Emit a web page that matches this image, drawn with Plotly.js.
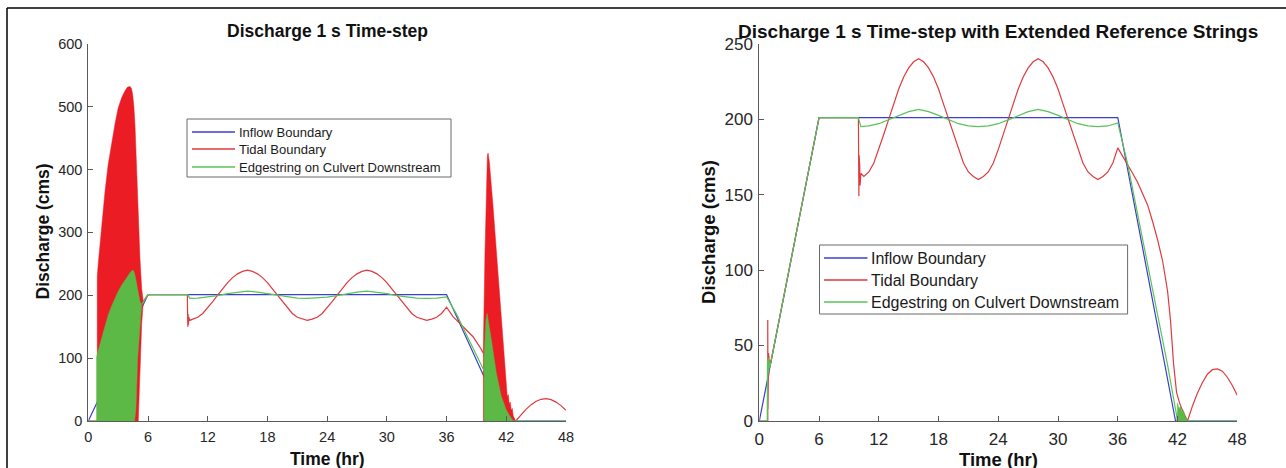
<!DOCTYPE html>
<html>
<head>
<meta charset="utf-8">
<script src="https://cdn.plot.ly/plotly-3.0.1.min.js"></script>
<style>html,body{margin:0;padding:0;background:#fff;}#chart{width:1286px;height:468px;}</style>
</head>
<body>
<div id="chart"></div>
<script>
// ---------- shared readings ----------
const seriesNames = ['Inflow Boundary', 'Tidal Boundary', 'Edgestring on Culvert Downstream'];
const xTicks = [0, 6, 12, 18, 24, 30, 36, 42, 48];

// Inflow boundary (both runs)
const inflowT = [0, 6, 36, 41.8, 48];
const inflowQ = [0, 201, 201, 0, 0];

// steady tidal oscillation 10.5 - 36 hr
const tideMidT = [10.5,11,11.5,12,12.5,13,13.5,14,14.5,15,15.5,16,16.5,17,17.5,18,18.5,19,19.5,20,20.5,21,21.5,22,22.5,23,23.5,24,24.5,25,25.5,26,26.5,27,27.5,28,28.5,29,29.5,30,30.5,31,31.5,32,32.5,33,33.5,34,34.5,35,35.5,36];
const tideMidQ = [162,165,171,180,190,200,210,220,228,234,238,240,238,234,228,220,210,200,190,180,171,165,162,160,162,165,171,180,190,200,210,220,228,234,238,240,238,234,228,220,210,200,190,180,171,165,162,160,162,165,171,181];

// edgestring oscillation 10.2 - 36 hr
const edgeMidT = [10.2,11,12,13,14,15,16,17,18,19,20,21,22,23,24,25,26,27,28,29,30,31,32,33,34,35,36];
const edgeMidQ = [195,195.5,197,199.5,202.5,205,206.5,205,202.5,199.5,197,195.5,195,195.5,197,199.5,202.5,205,206.5,205,202.5,199.5,197,195.5,195,195.5,197.5];

// ---------- left panel: 1 s time-step ----------
const tideL_startT = [0, 0.90, 0.90, 5.52, 5.86, 6.1, 9.95, 10.0, 10.03, 10.06, 10.1, 10.2];
const tideL_startQ = [0, 0, null, 190, 198, 201, 201, 150, 170, 153, 165, 160];
const tideL_endT = [36.65, 37.66, 38.66, 39.33, 39.7, 39.7, 42.95, 43.5, 44, 44.5, 45, 45.5, 46, 46.5, 47, 47.5, 48];
const tideL_endQ = [166, 150, 134, 118, 108, null, 0, 10, 19, 26, 31.5, 34.5, 35.5, 34, 30, 24.5, 17];

// oscillating tidal bursts (envelopes)
const tideBurstL1T = [0.90, 0.90, 1.0, 1.2, 1.45, 1.68, 2.0, 2.35, 2.7, 3.01, 3.35, 3.69, 3.95, 4.19, 4.33, 4.45, 4.58, 4.69, 4.86, 5.02, 5.19, 5.36, 5.52, 5.36, 5.19, 5.02, 0.90];
const tideBurstL1Q = [0, 229, 250, 288, 330, 365, 408, 444, 474, 498, 514, 525, 531, 532, 529, 520, 500, 471, 391, 312, 259, 211, 190, 153, 73, 0, 0];
const tideBurstL2T = [39.70, 39.70, 39.85, 40.0, 40.1, 40.17, 40.3, 40.67, 41.17, 41.67, 42.0, 42.1, 42.2, 42.3, 42.4, 42.5, 42.6, 42.7, 42.95, 39.70];
const tideBurstL2Q = [0, 118, 260, 390, 422, 426, 412, 341, 235, 129, 50, 38, 42, 27, 30, 17, 20, 8, 0, 0];

const edgeL_startT = [0, 0.84, 0.84, 5.36, 6.0, 10.0];
const edgeL_startQ = [0, 0, null, 185, 201, 201];
const edgeL_endT = [37, 38, 39, 39.77, 39.77, 42.7, 48];
const edgeL_endQ = [170, 137, 104, 80, null, 0, 0];

const edgeBurstL1T = [0.84, 0.84, 1.1, 1.35, 1.7, 2.01, 2.35, 2.68, 3.0, 3.35, 3.7, 4.02, 4.25, 4.46, 4.58, 4.69, 4.82, 4.96, 5.19, 5.36, 5.19, 4.96, 4.79, 4.65, 0.84];
const edgeBurstL1Q = [0, 102, 118, 132, 152, 169, 183, 195, 206, 216, 225, 232, 237, 240, 238, 232, 220, 206, 190, 185, 147, 100, 20, 0, 0];
const edgeBurstL2T = [39.77, 39.77, 39.95, 40.07, 40.5, 41.0, 41.5, 42.0, 42.3, 42.5, 42.7, 39.77];
const edgeBurstL2Q = [0, 100, 160, 171, 129, 76, 39, 17.5, 9, 4, 0, 0];

// ---------- right panel: extended reference strings ----------
const tideR_startT = [0, 0.85, 0.85, 0.87, 0.89, 0.91, 0.93, 0.95, 0.97, 1.0, 1.05, 1.1, 6.0, 9.95, 10.0, 10.02, 10.05, 10.08, 10.12, 10.2];
const tideR_startQ = [0, 0, 67, 8, 55, 20, 45, 30, 43, 36, 40, 37, 201, 201, 149, 176, 152, 170, 156, 164];
const tideR_endT = [36.5, 37, 37.5, 38, 38.5, 39, 39.5, 40, 40.5, 41, 41.3, 41.6, 41.9, 42.2, 42.5, 43.0, 43.5, 44, 44.5, 45, 45.5, 46, 46.5, 47, 47.5, 48];
const tideR_endQ = [175, 169, 164, 158, 151, 143, 132, 120, 106, 86, 66, 38, 19, 12, 7, 0, 10, 18.5, 25.5, 31, 34, 34.5, 33, 29, 23.5, 17];

const edgeR_startT = [0, 0.8, 0.82, 0.86, 0.9, 0.94, 0.98, 1.02, 1.1, 6.0, 9.95];
const edgeR_startQ = [0, 0, 40, 30, 42, 32, 40, 35, 37, 201, 201];
const edgeR_endT = [37, 38, 39, 40, 41, 41.95, 41.97, 48];
const edgeR_endQ = [170, 137, 104, 70, 37, 2, 0, 0];
const edgeBurstR1T = [41.95, 42.0, 42.15, 42.3, 42.45, 42.6, 42.75, 42.9, 43.0, 41.95];
const edgeBurstR1Q = [0, 12, 8, 10, 6, 7, 3, 2, 0, 0];

// ---------- styles ----------
const lineColors = ['#3c3cd0', '#df3a3e', '#58c358'];
const fRed = '#ec1c24', fGreen = '#5cb946';
const W = 1286, H = 468;
const px = v => v / W, py = v => 1 - v / H;

function line(x, y, color, name, xa, ya) {
  return {type:'scatter', mode:'lines', x:x, y:y, name:name, xaxis:xa, yaxis:ya,
          showlegend:false, connectgaps:false, line:{color:color, width:1.2}, hoverinfo:'skip'};
}
function burst(x, y, color, xa, ya) {
  return {type:'scatter', mode:'lines', x:x, y:y, fill:'toself', fillcolor:color, xaxis:xa, yaxis:ya,
          showlegend:false, line:{color:color, width:0.5}, hoverinfo:'skip'};
}

const traces = [
  // left
  line(inflowT, inflowQ, lineColors[0], seriesNames[0], 'x', 'y'),
  line(tideL_startT.concat(tideMidT, tideL_endT), tideL_startQ.concat(tideMidQ, tideL_endQ), lineColors[1], seriesNames[1], 'x', 'y'),
  burst(tideBurstL1T, tideBurstL1Q, fRed, 'x', 'y'),
  burst(tideBurstL2T, tideBurstL2Q, fRed, 'x', 'y'),
  line(edgeL_startT.concat(edgeMidT, edgeL_endT), edgeL_startQ.concat(edgeMidQ, edgeL_endQ), lineColors[2], seriesNames[2], 'x', 'y'),
  burst(edgeBurstL1T, edgeBurstL1Q, fGreen, 'x', 'y'),
  burst(edgeBurstL2T, edgeBurstL2Q, fGreen, 'x', 'y'),
  // right
  line(inflowT, inflowQ, lineColors[0], seriesNames[0], 'x2', 'y2'),
  line(tideR_startT.concat(tideMidT, tideR_endT), tideR_startQ.concat(tideMidQ, tideR_endQ), lineColors[1], seriesNames[1], 'x2', 'y2'),
  line(edgeR_startT.concat(edgeMidT, edgeR_endT), edgeR_startQ.concat(edgeMidQ, edgeR_endQ), lineColors[2], seriesNames[2], 'x2', 'y2'),
  burst(edgeBurstR1T, edgeBurstR1Q, fGreen, 'x2', 'y2')
];

const FONT = 'Liberation Sans, Arial, Helvetica, sans-serif';
const axisCol = '#5a5a5a';
function xAxis(domain, anchor, size) {
  return {domain:domain, anchor:anchor, range:[0,48], tickvals:xTicks, ticktext:xTicks.map(String),
          ticks:'inside', ticklen:5, tickcolor:axisCol, showline:true, linecolor:axisCol, linewidth:1,
          ticklabelstandoff:3,
          showgrid:false, zeroline:false, tickfont:{size:size, color:'#262626', family:FONT}, fixedrange:true};
}
function yAxis(domain, anchor, range, dtick, size) {
  return {domain:domain, anchor:anchor, range:range, dtick:dtick, tick0:0,
          ticks:'inside', ticklen:5, tickcolor:axisCol, showline:true, linecolor:axisCol, linewidth:1,
          ticklabelstandoff:2,
          showgrid:false, zeroline:false, tickfont:{size:size, color:'#262626', family:FONT}, fixedrange:true};
}

// legend boxes (pixel layout of the reference), entries built from seriesNames / lineColors
function legendParts(box, lineX0, lineX1, textX, rows, fontSize) {
  const shapes = [{type:'rect', xref:'paper', yref:'paper', x0:px(box[0]), x1:px(box[1]), y0:py(box[2]), y1:py(box[3]),
                   line:{color:'#6a6a6a', width:1}, fillcolor:'#ffffff', layer:'above'}];
  const anns = [];
  seriesNames.forEach((nm, i) => {
    shapes.push({type:'line', xref:'paper', yref:'paper', x0:px(lineX0), x1:px(lineX1), y0:py(rows[i]), y1:py(rows[i]),
                 line:{color:lineColors[i], width:1.4}, layer:'above'});
    anns.push({text:nm, xref:'paper', yref:'paper', x:px(textX), y:py(rows[i]), xanchor:'left', yanchor:'middle',
               showarrow:false, font:{size:fontSize, color:'#1a1a1a', family:FONT}});
  });
  return {shapes, anns};
}
const legL = legendParts([187, 451, 119, 177], 192, 235, 237, [132, 149, 167], 13);
const legR = legendParts([819.5, 1127.6, 245, 314], 824, 867.5, 869, [258, 280, 302], 16);

const yDom = [0.10043, 0.90662];
const layout = {
  width:W, height:H, margin:{l:0, r:0, t:0, b:0},
  paper_bgcolor:'#ffffff', plot_bgcolor:'#ffffff', showlegend:false,
  font:{family:FONT, color:'#262626'},
  xaxis: xAxis([0.06866, 0.44012], 'y', 14.5),
  yaxis: yAxis(yDom, 'x', [0, 600], 100, 14.5),
  xaxis2: xAxis([0.59044, 0.96213], 'y2', 17),
  yaxis2: yAxis(yDom, 'x2', [0, 250], 50, 17),
  annotations: [
    {text:'Discharge 1 s Time-step', xref:'paper', yref:'paper', x:0.2543, y:0.9327, xanchor:'center', yanchor:'middle',
     showarrow:false, font:{size:17.5, weight:'bold', color:'#111', family:FONT}},
    {text:'Discharge 1 s Time-step with Extended Reference Strings', xref:'paper', yref:'paper', x:0.7760, y:0.9327,
     xanchor:'center', yanchor:'middle', showarrow:false, font:{size:19, weight:'bold', color:'#111', family:FONT}},
    {text:'Time (hr)', xref:'paper', yref:'paper', x:0.2543, y:0.0182, xanchor:'center', yanchor:'middle',
     showarrow:false, font:{size:17.5, weight:'bold', color:'#111', family:FONT}},
    {text:'Time (hr)', xref:'paper', yref:'paper', x:0.7768, y:0.0182, xanchor:'center', yanchor:'middle',
     showarrow:false, font:{size:18.5, weight:'bold', color:'#111', family:FONT}},
    {text:'Discharge (cms)', xref:'paper', yref:'paper', x:0.03305, y:0.5043, xanchor:'center', yanchor:'middle',
     textangle:-90, showarrow:false, font:{size:17.5, weight:'bold', color:'#111', family:FONT}},
    {text:'Discharge (cms)', xref:'paper', yref:'paper', x:0.5513, y:0.5043, xanchor:'center', yanchor:'middle',
     textangle:-90, showarrow:false, font:{size:18.5, weight:'bold', color:'#111', family:FONT}}
  ].concat(legL.anns, legR.anns),
  shapes: [
    {type:'line', xref:'paper', yref:'paper', x0:px(7), x1:1.0, y0:py(8), y1:py(8), line:{color:'#000', width:1.5}},
    {type:'line', xref:'paper', yref:'paper', x0:px(7), x1:px(7), y0:py(8), y1:0, line:{color:'#000', width:1.5}}
  ].concat(legL.shapes, legR.shapes)
};

Plotly.newPlot('chart', traces, layout, {staticPlot:true, displayModeBar:false});
</script>
</body>
</html>
